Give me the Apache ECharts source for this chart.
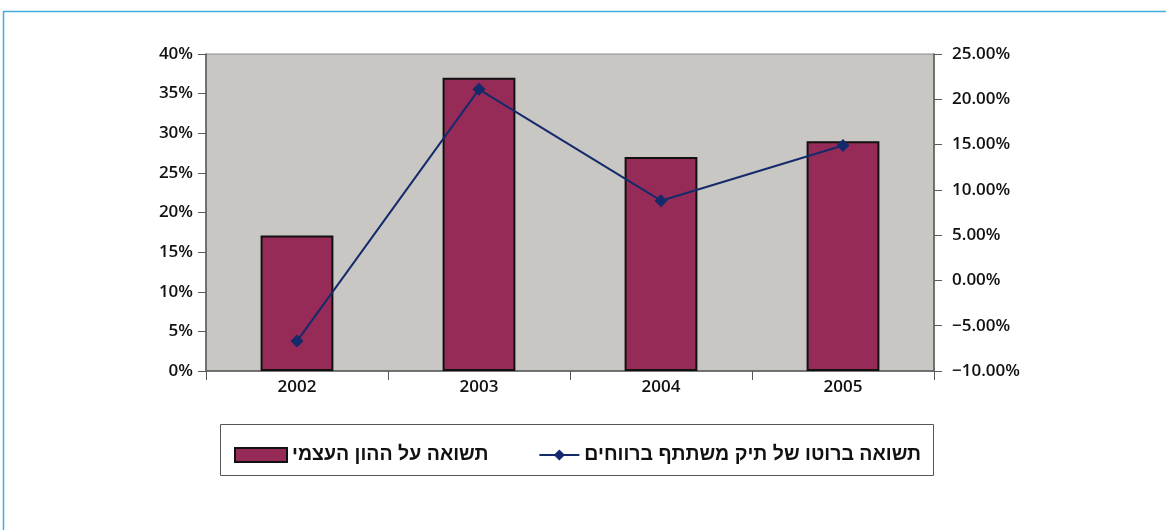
<!DOCTYPE html>
<html>
<head>
<meta charset="utf-8">
<script src="https://cdn.jsdelivr.net/npm/echarts@6/dist/echarts.min.js"></script>
<style>
  html, body { margin: 0; padding: 0; background: #ffffff; }
  #chart { width: 1166px; height: 530px; }
</style>
</head>
<body>
<div id="chart"></div>
<script>
// Years on the category axis
const years = ['2002', '2003', '2004', '2005'];
// Return on equity (%), left axis
const equityReturn = [17.1, 37.0, 27.0, 29.0];
// Gross return of the participating portfolio (%), right axis
const portfolioReturn = [-6.7, 21.1, 8.8, 14.9];
// Series names shown in the legend
const barName = 'תשואה על ההון העצמי';
const lineName = 'תשואה ברוטו של תיק משתתף ברווחים';

const labelFont = { fontFamily: 'Open Sans', fontWeight: 600, fontSize: 17, color: '#111' };
const legendFont = { fontFamily: 'Liberation Sans', fontWeight: 'bold', fontSize: 19.5, color: '#111' };
const axisGrey = '#5a5a5a';

const chart = echarts.init(document.getElementById('chart'), null, { renderer: 'canvas' });
chart.setOption({
  backgroundColor: '#ffffff',
  animation: false,
  graphic: [
    {
      type: 'polyline', silent: true,
      shape: { points: [[3.5, 530], [3.5, 11.5], [1166, 11.5]] },
      style: { stroke: '#45aadd', lineWidth: 1.5, fill: null }
    },
    {
      type: 'rect', silent: true,
      shape: { x: 220.5, y: 424.5, width: 713, height: 51 },
      style: { stroke: '#555555', lineWidth: 1, fill: null }
    }
  ],
  grid: {
    left: 206, right: 232, top: 54, bottom: 159,
    show: true, backgroundColor: '#c8c7c3', borderColor: '#8a8a8a', borderWidth: 1
  },
  legend: [
    {
      data: [{ name: barName, icon: 'rect' }], left: 229, top: 440,
      itemWidth: 52, itemHeight: 14, itemGap: 0,
      textStyle: legendFont
    },
    {
      data: [lineName], right: 240, top: 440,
      itemWidth: 40, itemHeight: 14,
      textStyle: legendFont
    }
  ],
  xAxis: {
    type: 'category', data: years, boundaryGap: true,
    axisLine: { lineStyle: { color: axisGrey, width: 1.5 } },
    axisTick: { show: true, length: 9, lineStyle: { color: axisGrey } },
    axisLabel: Object.assign({ margin: 8 }, labelFont),
    splitLine: { show: false }
  },
  yAxis: [
    {
      type: 'value', min: 0, max: 40, interval: 5, position: 'left',
      axisLine: { show: true, lineStyle: { color: axisGrey, width: 1.5 } },
      axisTick: { show: true, length: 8, lineStyle: { color: axisGrey } },
      axisLabel: Object.assign({ margin: 13, formatter: v => v + '%' }, labelFont),
      splitLine: { show: false }
    },
    {
      type: 'value', min: -10, max: 25, interval: 5, position: 'right',
      axisLine: { show: true, lineStyle: { color: axisGrey, width: 1.5 } },
      axisTick: { show: true, length: 8, lineStyle: { color: axisGrey } },
      axisLabel: Object.assign({
        margin: 18,
        formatter: v => (v < 0 ? '\u2212' + Math.abs(v).toFixed(2) : v.toFixed(2)) + '%'
      }, labelFont),
      splitLine: { show: false }
    }
  ],
  series: [
    {
      name: barName, type: 'bar', yAxisIndex: 0, data: equityReturn,
      barWidth: '40%',
      itemStyle: { color: '#962b57', borderColor: '#111111', borderWidth: 2 }
    },
    {
      name: lineName, type: 'line', yAxisIndex: 1, data: portfolioReturn,
      symbol: 'diamond', symbolSize: 13,
      lineStyle: { color: '#152a6b', width: 2 },
      itemStyle: { color: '#152a6b' }
    }
  ]
});
</script>
</body>
</html>
